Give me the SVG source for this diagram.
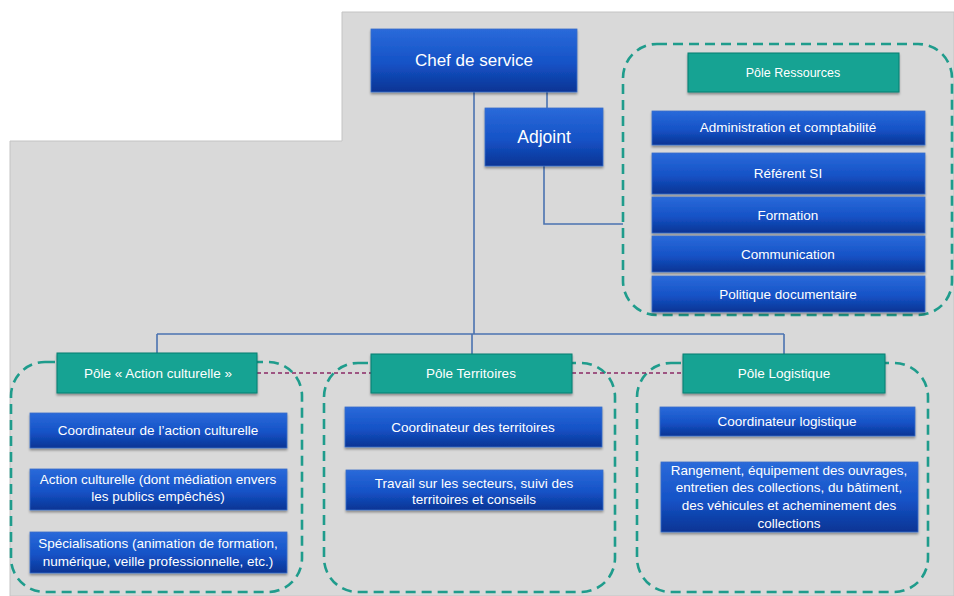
<svg xmlns="http://www.w3.org/2000/svg" width="954" height="596" viewBox="0 0 954 596">
<defs>
<linearGradient id="gb" x1="0" y1="0" x2="0" y2="1">
<stop offset="0" stop-color="#2a6ada"/>
<stop offset="0.55" stop-color="#1552c6"/>
<stop offset="1" stop-color="#0a3494"/>
</linearGradient>
<filter id="sh" x="-5%" y="-10%" width="110%" height="130%">
<feDropShadow dx="0" dy="2" stdDeviation="1.2" flood-color="#000" flood-opacity="0.35"/>
</filter>
</defs>
<style>
.blue{fill:url(#gb);stroke:#3a6fc8;stroke-width:0.8;filter:url(#sh)}
.teal{fill:#17a393;stroke:#0d7f71;stroke-width:1;filter:url(#sh)}
.grp{fill:none;stroke:#1f9c8c;stroke-width:2.6;stroke-dasharray:10 6}
.con{fill:none;stroke:#4a72b0;stroke-width:1.6}
.link{fill:none;stroke:#8a2a66;stroke-width:1.3;stroke-dasharray:4 3}
text{font-family:"Liberation Sans",Arial,sans-serif;fill:#ffffff;text-anchor:middle}
.t12{font-size:13.5px}
.tr{font-size:12.5px}
.t16{font-size:17px}
.t17{font-size:17.5px}
</style>
<polygon points="342,12 954,12 954,596 10,596 10,141 342,141" fill="#d9d9d9" stroke="#c4c4c4" stroke-width="1"/>

<g id="group-frames">
<rect class="grp" x="623" y="44" width="329" height="271" rx="34"/>
<rect class="grp" x="11" y="362" width="291" height="230" rx="34"/>
<rect class="grp" x="324" y="363" width="291" height="229" rx="34"/>
<rect class="grp" x="637" y="363" width="291" height="229" rx="34"/>
</g>

<g id="connectors">
<line class="con" x1="474" y1="92" x2="474" y2="334"/>
<line class="con" x1="547" y1="92" x2="547" y2="108"/>
<polyline class="con" points="544,166 544,224 623,224"/>
<line class="con" x1="157" y1="334" x2="784" y2="334"/>
<line class="con" x1="157" y1="334" x2="157" y2="353"/>
<line class="con" x1="472" y1="334" x2="472" y2="354"/>
<line class="con" x1="784" y1="334" x2="784" y2="354"/>
<line class="link" x1="257" y1="373" x2="683" y2="373"/>
</g>

<g id="chef">
<rect class="blue" x="371" y="29" width="206" height="63"/>
<text class="t16" x="474" y="66">Chef de service</text>
</g>
<g id="adjoint">
<rect class="blue" x="485" y="108" width="118" height="58"/>
<text class="t17" x="544" y="143">Adjoint</text>
</g>

<g id="pole-ressources">
<rect class="teal" x="688" y="53" width="211" height="39"/>
<text class="tr" x="793" y="77">Pôle Ressources</text>
</g>
<g id="administration">
<rect class="blue" x="652" y="111" width="273" height="34"/>
<text class="t12" x="788" y="132">Administration et comptabilité</text>
</g>
<g id="referent-si">
<rect class="blue" x="652" y="153" width="273" height="41"/>
<text class="t12" x="788" y="178">Référent SI</text>
</g>
<g id="formation">
<rect class="blue" x="652" y="197" width="273" height="36"/>
<text class="t12" x="788" y="220">Formation</text>
</g>
<g id="communication">
<rect class="blue" x="652" y="236" width="273" height="36"/>
<text class="t12" x="788" y="259">Communication</text>
</g>
<g id="politique">
<rect class="blue" x="652" y="276" width="273" height="36"/>
<text class="t12" x="788" y="299">Politique documentaire</text>
</g>

<g id="pole-action">
<rect class="teal" x="57" y="353" width="200" height="40"/>
<text class="t12" x="158" y="378">Pôle « Action culturelle »</text>
</g>
<g id="coord-action">
<rect class="blue" x="30" y="413" width="257" height="35"/>
<text class="t12" x="158" y="435">Coordinateur de l’action culturelle</text>
</g>
<g id="action-culturelle">
<rect class="blue" x="30" y="469" width="257" height="41"/>
<text class="t12" x="158" y="484">Action culturelle (dont médiation envers</text>
<text class="t12" x="158" y="501">les publics empêchés)</text>
</g>
<g id="specialisations">
<rect class="blue" x="30" y="532" width="257" height="41"/>
<text class="t12" x="158" y="548">Spécialisations (animation de formation,</text>
<text class="t12" x="158" y="566">numérique, veille professionnelle, etc.)</text>
</g>

<g id="pole-territoires">
<rect class="teal" x="371" y="354" width="201" height="39"/>
<text class="t12" x="471" y="378">Pôle Territoires</text>
</g>
<g id="coord-territoires">
<rect class="blue" x="345" y="407" width="257" height="40"/>
<text class="t12" x="473" y="432">Coordinateur des territoires</text>
</g>
<g id="travail">
<rect class="blue" x="346" y="470" width="257" height="40"/>
<text class="t12" x="474" y="488">Travail sur les secteurs, suivi des</text>
<text class="t12" x="474" y="504">territoires et conseils</text>
</g>

<g id="pole-logistique">
<rect class="teal" x="683" y="354" width="202" height="39"/>
<text class="t12" x="784" y="378">Pôle Logistique</text>
</g>
<g id="coord-logistique">
<rect class="blue" x="660" y="407" width="255" height="29"/>
<text class="t12" x="787" y="426">Coordinateur logistique</text>
</g>
<g id="rangement">
<rect class="blue" x="661" y="462" width="257" height="70"/>
<text class="t12" x="789" y="475">Rangement, équipement des ouvrages,</text>
<text class="t12" x="789" y="492">entretien des collections, du bâtiment,</text>
<text class="t12" x="789" y="510">des véhicules et acheminement des</text>
<text class="t12" x="789" y="528">collections</text>
</g>
</svg>
